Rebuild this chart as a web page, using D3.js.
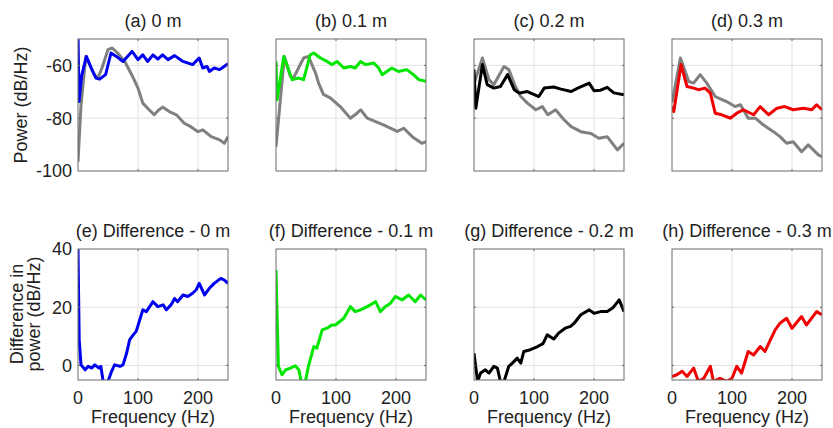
<!DOCTYPE html>
<html>
<head>
<meta charset="utf-8">
<script src="https://cdn.jsdelivr.net/npm/d3@7"></script>
<style>
  body { margin: 0; background: #fff; }
  text { font-family: "Liberation Sans", Arial, sans-serif; fill: #222; }
</style>
</head>
<body>
<svg width="833" height="428"></svg>
<script>
// Panel titles
var topTitles = ["(a) 0 m", "(b) 0.1 m", "(c) 0.2 m", "(d) 0.3 m"];
var bottomTitles = ["(e) Difference - 0 m", "(f) Difference - 0.1 m", "(g) Difference - 0.2 m", "(h) Difference - 0.3 m"];
var seriesColors = ["#0000f0", "#00e600", "#000000", "#f00000"];
var refColor = "#808080";

// Tick labels
var freqTicks = [0, 100, 200];
var powerTicks = [-100, -80, -60];
var diffTicks = [0, 20, 40];

// Power spectra, [frequency Hz, dB/Hz]
var power0 = [[0,-48],[1.7,-73.7],[6,-64],[14,-56.6],[22,-61],[30,-64.8],[36,-65.2],[46,-63.5],[55,-55.3],[64,-56.6],[75,-58.5],[90,-54.7],[100,-57.8],[108,-56],[116,-58.5],[125,-56],[133,-57.6],[141,-56],[150,-57.8],[161,-56.3],[175,-58.5],[191,-59.7],[202,-57.2],[208,-61],[215,-60.4],[219,-62.3],[227,-61],[236,-61.6],[250,-59.4]];
var ref0 = [[0,-96.5],[5,-75],[13,-56.6],[20,-60],[27,-63.5],[33,-64.8],[40,-61],[50,-54],[57,-53.4],[66,-55.3],[78,-58.5],[91,-64.2],[100,-68.6],[108,-74.3],[116,-76.2],[127,-78.7],[134,-77],[141,-75.8],[152,-77.5],[164,-78.7],[177,-81.9],[188,-83.2],[200,-85.1],[208,-84.4],[222,-87],[236,-88.2],[244,-89.5],[250,-87]];
var power1 = [[0,-58.5],[1.7,-73],[13,-56.6],[20,-61],[27,-65.4],[38,-64.8],[46,-65.4],[57,-56],[63,-55.3],[74,-57.2],[85,-58.5],[93,-59.7],[102,-58.5],[113,-61],[124,-60.4],[132,-61],[141,-58.5],[149,-59.7],[163,-59.1],[171,-61],[177,-63.5],[193,-61],[204,-62.3],[218,-61.6],[229,-63.5],[238,-65.4],[250,-66]];
var ref1 = [[0,-90.8],[14,-56.6],[24,-64.2],[29,-64.8],[46,-57.2],[54,-56.6],[66,-62.9],[71,-66.7],[79,-71],[91,-72.4],[107,-75.6],[124,-80],[135,-78.1],[141,-76.8],[152,-80],[166,-81.3],[179,-82.5],[202,-85],[213,-83.8],[227,-87],[243,-89.5],[250,-88.9]];
var power2 = [[0,-61.6],[3,-76.2],[14,-59.7],[22,-67.3],[33,-68.6],[44,-68],[56,-63.5],[67,-69.2],[75,-70.5],[89,-69.9],[108,-71.8],[117,-68.6],[133,-68.2],[145,-69],[162,-69.9],[173,-68.6],[192,-66.7],[200,-69.6],[211,-69.4],[222,-68.3],[233,-70.4],[250,-71.1]];
var ref2 = [[0,-67],[14,-57.2],[25,-65.4],[33,-67.3],[50,-60.4],[58,-61.6],[69,-68],[78,-71.8],[89,-74.3],[103,-76.8],[114,-75.6],[123,-78.7],[136,-76.8],[150,-80.6],[162,-83.2],[178,-85.1],[195,-85.8],[208,-87.6],[222,-87],[239,-92],[250,-89.5]];
var power3 = [[0,-75.6],[3,-77.5],[15,-59.7],[25,-68],[36,-68.6],[44,-69.2],[55,-68.6],[64,-70.5],[72,-78.1],[83,-78.7],[97,-80],[108,-78.1],[119,-76.8],[136,-78.7],[147,-75.6],[161,-78.7],[175,-76.2],[188,-75.6],[202,-76.8],[219,-76.2],[233,-76.8],[241,-74.9],[250,-76.8]];
var ref3 = [[0,-74],[1,-73],[14,-57.2],[28,-66.1],[36,-66.7],[47,-63.5],[58,-66.7],[72,-71.8],[91,-73.7],[105,-75.6],[114,-74.9],[127,-80],[139,-80],[152,-82.5],[169,-85.1],[180,-87],[191,-89.5],[202,-88.9],[216,-92.7],[227,-90.1],[244,-93.9],[250,-94.6]];

// Difference in power, [frequency Hz, dB/Hz]
var diff0 = [[0,40],[2,8.8],[5,0.2],[12,-1.5],[17,-0.3],[23,-0.9],[28,0.2],[35,-0.9],[38,-0.3],[42,-5.5],[50,-5.5],[56,-2],[61,0.2],[70,-0.3],[75,0.2],[81,4.2],[86,8.8],[92,10.5],[97,11.7],[103,15.7],[108,19.1],[114,18.5],[125,21.9],[133,20.2],[142,20.8],[147,19.1],[155,20.8],[161,23],[166,21.9],[175,24.2],[183,23.7],[191,24.8],[197,26],[202,28.2],[211,24.2],[219,26.5],[227,28.2],[238,29.9],[244,29.3],[250,28.2]];
var diff1 = [[0,32.8],[4,-0.3],[10,-3.2],[16,-1.5],[24,-0.9],[32,-0.1],[38,-1.5],[42,-5.5],[49,-5.5],[54,-0.3],[63,6.5],[68,5.9],[77,12.2],[85,12.8],[93,13.9],[99,13.9],[113,16.2],[124,20.2],[132,18.5],[141,19.1],[152,20.2],[166,21.9],[174,18.5],[182,20.2],[191,21.4],[199,23.7],[210,22.5],[221,24.2],[232,21.9],[241,24.2],[250,22.5]];
var diff2 = [[0,4.2],[6,-5.5],[11,-2.6],[19,-1.5],[25,-2.6],[33,-0.3],[39,-0.9],[44,-5.5],[50,-5.5],[58,-0.3],[64,0.8],[72,2.5],[78,0.8],[83,4.8],[94,5.4],[106,6.5],[115,7.5],[122,10.5],[133,9.1],[141,11.1],[152,12.8],[161,13.4],[167,14.5],[178,17.4],[192,19.1],[200,17.9],[211,18.5],[222,18.5],[231,19.7],[242,22.5],[250,18.5]];
var diff3 = [[0,-3.8],[8,-3.2],[17,-2],[25,-3.8],[36,-0.9],[44,-5.5],[53,-4.4],[64,-0.3],[69,-5.5],[80,-4.4],[91,-5.5],[100,-4.4],[108,-0.3],[116,-2.6],[127,4.8],[136,3.6],[147,6.5],[155,4.8],[164,8.8],[172,12.2],[180,14.5],[191,16.2],[200,12.8],[216,16.8],[224,13.9],[241,18.5],[250,17.4]];

var powers = [power0, power1, power2, power3];
var refs = [ref0, ref1, ref2, ref3];
var diffs = [diff0, diff1, diff2, diff3];

var svg = d3.select("svg");

// layout
var pw = 150, left0 = 78, colStep = 198;
var topRow = { y0: 39, h: 132 }, botRow = { y0: 249, h: 131 };
var fs = "18px";

var x = d3.scaleLinear().domain([0, 250]).range([0, pw]);
var yPow = d3.scaleLinear().domain([-100, -50]).range([topRow.h, 0]);
var yDiff = d3.scaleLinear().domain([-5, 40]).range([botRow.h, 0]);

function panel(i, row, y, yTicks, gridY, title, lines, isBottom) {
  var g = svg.append("g")
    .attr("transform", "translate(" + (left0 + i * colStep) + "," + row.y0 + ")");
  var h = row.h;

  // grid
  g.selectAll(".gx").data([100, 200]).enter().append("line")
    .attr("x1", d => x(d)).attr("x2", d => x(d))
    .attr("y1", 0).attr("y2", h)
    .attr("stroke", "#e2e2e2").attr("stroke-width", 1);
  g.selectAll(".gy").data(gridY).enter().append("line")
    .attr("y1", d => y(d)).attr("y2", d => y(d))
    .attr("x1", 0).attr("x2", pw)
    .attr("stroke", "#e2e2e2").attr("stroke-width", 1);

  // curves, clipped to the box
  var clipId = "clip" + i + (isBottom ? "b" : "t");
  g.append("clipPath").attr("id", clipId)
    .append("rect").attr("width", pw).attr("height", h);
  var line = d3.line().x(d => x(d[0])).y(d => y(d[1]));
  lines.forEach(function(l) {
    g.append("path")
      .datum(l.data)
      .attr("clip-path", "url(#" + clipId + ")")
      .attr("fill", "none")
      .attr("stroke", l.color)
      .attr("stroke-width", 3)
      .attr("stroke-linejoin", "round")
      .attr("d", line);
  });

  // small inward ticks
  [100, 200].forEach(function(t) {
    g.append("line").attr("x1", x(t)).attr("x2", x(t)).attr("y1", 0).attr("y2", 2).attr("stroke", "#666");
    g.append("line").attr("x1", x(t)).attr("x2", x(t)).attr("y1", h).attr("y2", h - 2).attr("stroke", "#666");
  });
  gridY.forEach(function(t) {
    g.append("line").attr("y1", y(t)).attr("y2", y(t)).attr("x1", 0).attr("x2", 2).attr("stroke", "#666");
    g.append("line").attr("y1", y(t)).attr("y2", y(t)).attr("x1", pw).attr("x2", pw - 2).attr("stroke", "#666");
  });

  // box
  g.append("rect").attr("width", pw).attr("height", h)
    .attr("fill", "none").attr("stroke", "#6a6a6a").attr("stroke-width", 1);

  // title
  g.append("text").attr("x", pw / 2).attr("y", -12)
    .attr("text-anchor", "middle").style("font-size", fs).text(title);

  if (i === 0) {
    g.selectAll(".yt").data(yTicks).enter().append("text")
      .attr("x", -6).attr("y", d => y(d)).attr("dy", "0.36em")
      .attr("text-anchor", "end").style("font-size", fs)
      .text(d => d);
  }
  if (isBottom) {
    g.selectAll(".xt").data(freqTicks).enter().append("text")
      .attr("x", d => x(d)).attr("y", h + 24)
      .attr("text-anchor", "middle").style("font-size", fs)
      .text(d => d);
    g.append("text").attr("x", pw / 2).attr("y", h + 43)
      .attr("text-anchor", "middle").style("font-size", fs)
      .text("Frequency (Hz)");
  }
}

for (var i = 0; i < 4; i++) {
  panel(i, topRow, yPow, powerTicks, [-80, -60], topTitles[i],
    [{ data: refs[i], color: refColor }, { data: powers[i], color: seriesColors[i] }], false);
  panel(i, botRow, yDiff, diffTicks, [0, 20], bottomTitles[i],
    [{ data: diffs[i], color: seriesColors[i] }], true);
}

// y axis labels
svg.append("text")
  .attr("transform", "translate(27," + (topRow.y0 + topRow.h / 2) + ") rotate(-90)")
  .attr("text-anchor", "middle").style("font-size", fs)
  .text("Power (dB/Hz)");
svg.append("text")
  .attr("transform", "translate(23,314) rotate(-90)")
  .attr("text-anchor", "middle").style("font-size", fs)
  .text("Difference in");
svg.append("text")
  .attr("transform", "translate(40,314) rotate(-90)")
  .attr("text-anchor", "middle").style("font-size", fs)
  .text("power (dB/Hz)");
</script>
</body>
</html>
